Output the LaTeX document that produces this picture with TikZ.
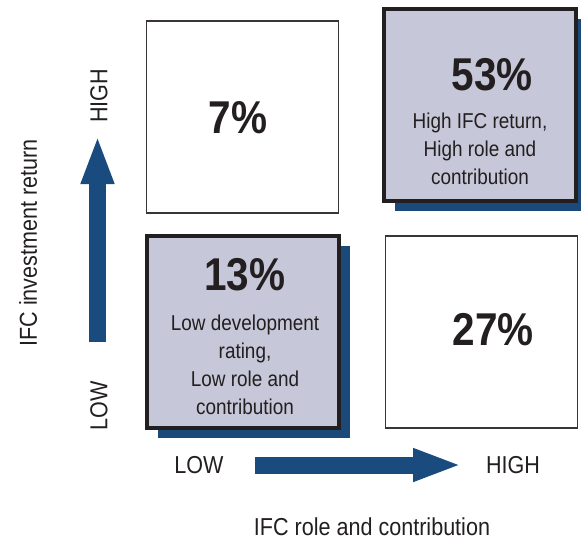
\documentclass[tikz,border=0pt]{standalone}
\usepackage{fontspec}
\setmainfont{Liberation Sans}[FakeStretch=0.88]
\usepackage{tikz}
\usetikzlibrary{positioning,arrows.meta,shadows}
\definecolor{boxfill}{HTML}{C6C7D8}
\definecolor{shadowblue}{HTML}{1B4A7A}
\definecolor{arrowblue}{HTML}{1A4B7E}
\definecolor{ink}{HTML}{231F20}

\begin{document}
\begin{tikzpicture}[
    x=1pt, y=-1pt,
    quad/.style={minimum width=192pt, minimum height=192pt, inner sep=0pt},
    loquad/.style={quad, draw=ink!90, line width=1.7pt, fill=white},
    hiquad/.style={quad, draw=ink, line width=4pt, fill=boxfill,
        general shadow={fill=shadowblue, shadow xshift=11pt, shadow yshift=-10pt}},
    pct/.style={font=\fontsize{46}{46}\selectfont\bfseries, text=ink, inner sep=0pt, anchor=base},
    desc/.style={font=\fontsize{21.5}{28}\selectfont, text=ink, align=center, inner sep=0pt, anchor=north},
    axis/.style={font=\fontsize{24.5}{24.5}\selectfont, text=ink, inner sep=0pt},
    fatarrow/.style={-{Triangle[length=49pt, width=30pt]}, line width=17pt, arrowblue}
]
\useasboundingbox (0,0) rectangle (581,542);

% Quadrants
\node[loquad] (tl) at (242.5,117) {};
\node[hiquad] (tr) at (479.5,104.5) {};
\node[hiquad] (bl) at (243,331.5) {};
\node[loquad] (br) at (481.5,332) {};

% Shares
\node[pct] (tlpct) at (238,133) {7\%};
\node[pct] (trpct) at (492,90) {53\%};
\node[desc] (trdesc) at (480,113) {High IFC return,\\High role and\\contribution};
\node[pct] (blpct) at (245,290) {13\%};
\node[desc] (bldesc) at (245,315) {Low development\\rating,\\Low role and\\contribution};
\node[pct] (brpct) at (493,345) {27\%};

% Vertical axis
\node[axis, rotate=90] (yhigh) at (99,96) {HIGH};
\node[axis, rotate=90] (ylow) at (99,406) {LOW};
\node[axis, rotate=90] (ytitle) at (28,243) {IFC investment return};
\coordinate (ystart) at (97.5,342);
\coordinate (yend) at (97.5,135);
\draw[fatarrow] (ystart) -- (yend);

% Horizontal axis
\node[axis] (xlow) at (199,465) {LOW};
\node[axis] (xhigh) at (513,465) {HIGH};
\node[axis] (xtitle) at (372,527) {IFC role and contribution};
\coordinate (xstart) at (255,465);
\coordinate (xend) at (462,465);
\draw[fatarrow] (xstart) -- (xend);
\end{tikzpicture}
\end{document}
